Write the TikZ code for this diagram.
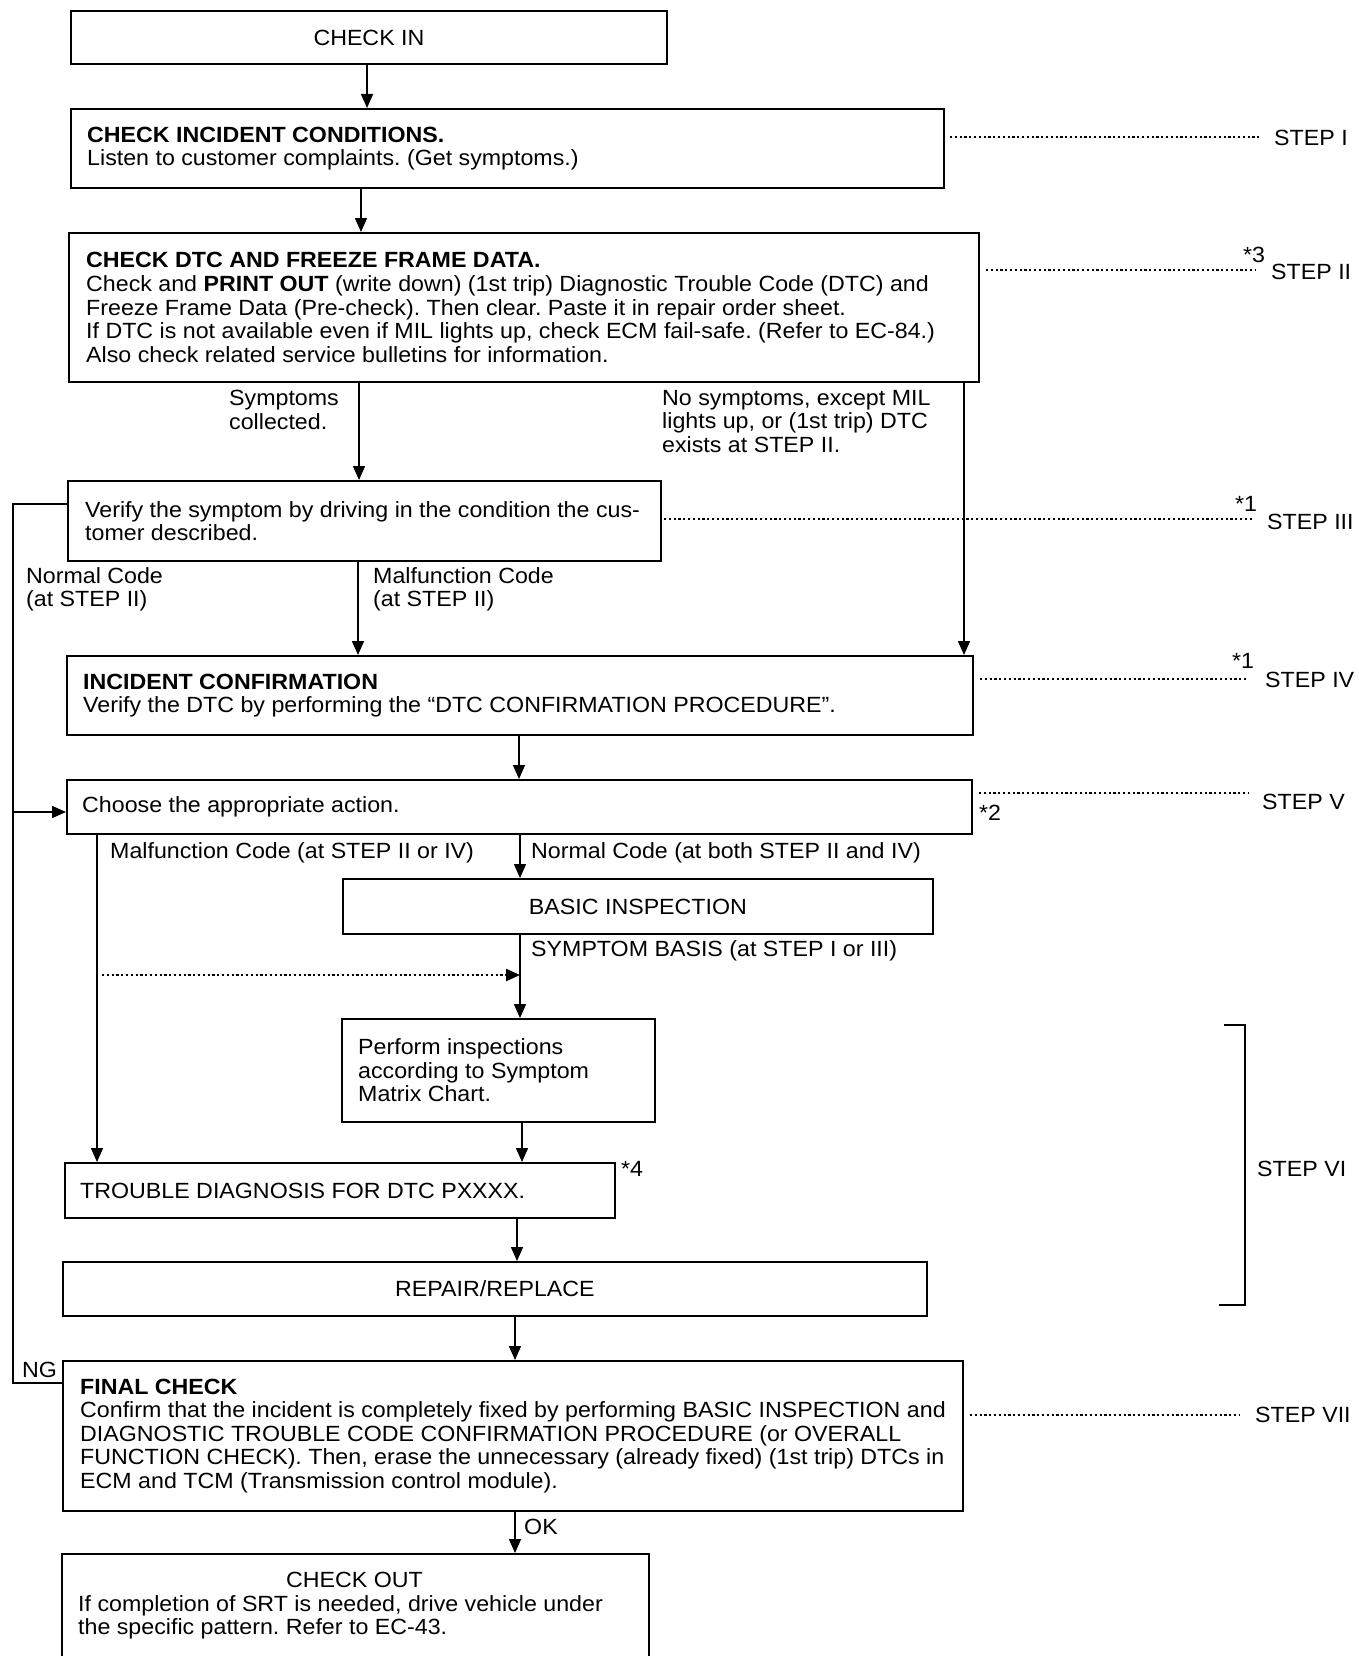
\documentclass[tikz,border=0pt]{standalone}
\usepackage{fontspec}
\setmainfont{Liberation Sans}[FakeStretch=1.055]
\usetikzlibrary{arrows.meta}
\frenchspacing
\begin{document}
\begin{tikzpicture}[x=1pt,y=-1pt,
  every node/.style={font=\fontsize{22}{23.6}\selectfont, inner sep=0pt},
  box/.style={draw, line width=1.9pt, anchor=north west, inner sep=0pt},
  txt/.style={anchor=west, align=left},
  lbl/.style={anchor=north west, align=left},
  steplbl/.style={anchor=west},
  conn/.style={line width=1.5pt},
  arr/.style={line width=1.5pt, -{Triangle[length=14pt,width=12pt]}},
  dots/.style={line width=2.4pt, dash pattern=on 2.2pt off 2.6pt},
]
\clip (0,0) rectangle (1359,1656);
\fill[white] (0,0) rectangle (1359,1656);

% boxes
\node[box, minimum width=596pt, minimum height=53pt] (checkin) at (70,10) {CHECK IN};
\node[box, minimum width=873pt, minimum height=79pt] (incident) at (70,108) {};
\node[txt] (incidentT) at ([xshift=17pt]incident.west) {\textbf{CHECK INCIDENT CONDITIONS.}\\Listen to customer complaints. (Get symptoms.)};
\node[box, minimum width=910pt, minimum height=149pt] (dtc) at (68,232) {};
\node[txt] (dtcT) at ([xshift=18pt]dtc.west) {\textbf{CHECK DTC AND FREEZE FRAME DATA.}\\
Check and \textbf{PRINT OUT} (write down) (1st trip) Diagnostic Trouble Code (DTC) and\\
Freeze Frame Data (Pre-check). Then clear. Paste it in repair order sheet.\\
If DTC is not available even if MIL lights up, check ECM fail-safe. (Refer to EC-84.)\\
Also check related service bulletins for information.};
\node[box, minimum width=593pt, minimum height=80pt] (verify) at (67,480) {};
\node[txt] (verifyT) at ([xshift=18pt]verify.west) {Verify the symptom by driving in the condition the cus-\\tomer described.};
\node[box, minimum width=906pt, minimum height=79pt] (confirm) at (66,655) {};
\node[txt] (confirmT) at ([xshift=17pt]confirm.west) {\textbf{INCIDENT CONFIRMATION}\\Verify the DTC by performing the ``DTC CONFIRMATION PROCEDURE''.};
\node[box, minimum width=905pt, minimum height=54pt] (choose) at (66,779) {};
\node[txt] (chooseT) at ([xshift=16pt]choose.west) {Choose the appropriate action.};
\node[box, minimum width=590pt, minimum height=55pt] (basic) at (342,878) {BASIC INSPECTION};
\node[box, minimum width=313pt, minimum height=103pt] (perform) at (341,1018) {};
\node[txt] (performT) at ([xshift=17pt]perform.west) {Perform inspections\\according to Symptom\\Matrix Chart.};
\node[box, minimum width=550pt, minimum height=55pt] (trouble) at (64,1162) {};
\node[txt] (troubleT) at ([xshift=16pt]trouble.west) {TROUBLE DIAGNOSIS FOR DTC PXXXX.};
\node[box, minimum width=864pt, minimum height=54pt] (repair) at (62,1261) {REPAIR/REPLACE};
\node[box, minimum width=900pt, minimum height=150pt] (final) at (62,1360) {};
\node[txt] (finalT) at ([xshift=18pt]final.west) {\textbf{FINAL CHECK}\\
Confirm that the incident is completely fixed by performing BASIC INSPECTION and\\
DIAGNOSTIC TROUBLE CODE CONFIRMATION PROCEDURE (or OVERALL\\
FUNCTION CHECK). Then, erase the unnecessary (already fixed) (1st trip) DTCs in\\
ECM and TCM (Transmission control module).};
\node[box, minimum width=587pt, minimum height=200pt] (checkout) at (61,1553) {};
\node[anchor=north] (checkoutH) at (354.5,1572) {CHECK OUT};
\node[lbl] (checkoutT) at (78,1595) {If completion of SRT is needed, drive vehicle under\\the specific pattern. Refer to EC-43.};

% columns
\coordinate (c1) at (367,0);
\coordinate (c2) at (361,0);
\coordinate (c3) at (359,0);
\coordinate (c4) at (964,0);
\coordinate (c5) at (358,0);
\coordinate (c6) at (519,0);
\coordinate (c7) at (97,0);
\coordinate (c8) at (520,0);
\coordinate (c10) at (522,0);
\coordinate (c11) at (517,0);
\coordinate (c12) at (515,0);

\draw[arr] (checkin.south -| c1) -- (incident.north -| c1);
\draw[arr] (incident.south -| c2) -- (dtc.north -| c2);
\draw[arr] (dtc.south -| c3) -- (verify.north -| c3);
\draw[arr] (dtc.south -| c4) -- (confirm.north -| c4);
\draw[arr] (verify.south -| c5) -- (confirm.north -| c5);
\draw[arr] (confirm.south -| c6) -- (choose.north -| c6);
\draw[arr] (choose.south -| c7) -- (trouble.north -| c7);
\draw[arr] (choose.south -| c8) -- (basic.north -| c8);
\draw[arr] (basic.south -| c8) -- (perform.north -| c8);
\draw[arr] (perform.south -| c10) -- (trouble.north -| c10);
\draw[arr] (trouble.south -| c11) -- (repair.north -| c11);
\draw[arr] (repair.south -| c12) -- (final.north -| c12);
\draw[arr] (final.south -| c12) -- (checkout.north -| c12);

% left loop
\coordinate (L1) at (13,504);
\coordinate (L2) at (13,1383);
\coordinate (L3) at (13,812);
\draw[conn] (verify.west |- L1) -- (L1) -- (L2) -- (final.west |- L2);
\draw[arr] (L3) -- (choose.west |- L3);

% dotted arrow
\coordinate (D1) at (102,975);
\draw[dots, -{Triangle[length=14pt,width=12pt]}] (D1) -- (D1 -| c8);

% connector labels
\node[lbl] (symL) at (229,390) {Symptoms\\collected.};
\node[lbl] (nosymL) at (662,390) {No symptoms, except MIL\\lights up, or (1st trip) DTC\\exists at STEP II.};
\node[lbl] (norm1L) at (26,567) {Normal Code\\(at STEP II)};
\node[lbl] (malf1L) at (373,567) {Malfunction Code\\(at STEP II)};
\node[lbl] (malf2L) at (110,842) {Malfunction Code (at STEP II or IV)};
\node[lbl] (norm2L) at (531,842) {Normal Code (at both STEP II and IV)};
\node[lbl] (symbL) at (531,940) {SYMPTOM BASIS (at STEP I or III)};
\node[lbl] (ngL) at (22,1362) {NG};
\node[lbl] (okL) at (524,1519) {OK};

% step lines
\coordinate (S1) at (1260,137);
\coordinate (S2) at (1256,270);
\coordinate (S3) at (1254,519);
\coordinate (S4) at (1247,679);
\coordinate (S5) at (1248,793);
\coordinate (S7) at (1240,1415);
\draw[dots] ([xshift=5pt]incident.east |- S1) -- (S1);
\draw[dots] ([xshift=6pt]dtc.east |- S2) -- (S2);
\draw[dots] ([xshift=2pt]verify.east |- S3) -- (S3);
\draw[dots] ([xshift=6pt]confirm.east |- S4) -- (S4);
\draw[dots] ([xshift=6pt]choose.east |- S5) -- (S5);
\draw[dots] ([xshift=6pt]final.east |- S7) -- (S7);

\node[steplbl] (st1) at (1274,138) {STEP I};
\node[steplbl] (st2) at (1271,272) {STEP II};
\node[steplbl] (st3) at (1267,522) {STEP III};
\node[steplbl] (st4) at (1265,680) {STEP IV};
\node[steplbl] (st5) at (1262,802) {STEP V};
\node[steplbl] (st6) at (1257,1169) {STEP VI};
\node[steplbl] (st7) at (1255,1415) {STEP VII};

\node[steplbl] (n3) at (1243,255) {*3};
\node[steplbl] (n1a) at (1235,504) {*1};
\node[steplbl] (n1b) at (1232,661) {*1};
\node[steplbl] (n2) at (979,813) {*2};
\node[steplbl] (n4) at (621,1169) {*4};

% STEP VI bracket
\draw[line width=1.9pt] (1224,1025) -- (1245,1025) -- (1245,1305) -- (1219,1305);
\end{tikzpicture}
\end{document}
